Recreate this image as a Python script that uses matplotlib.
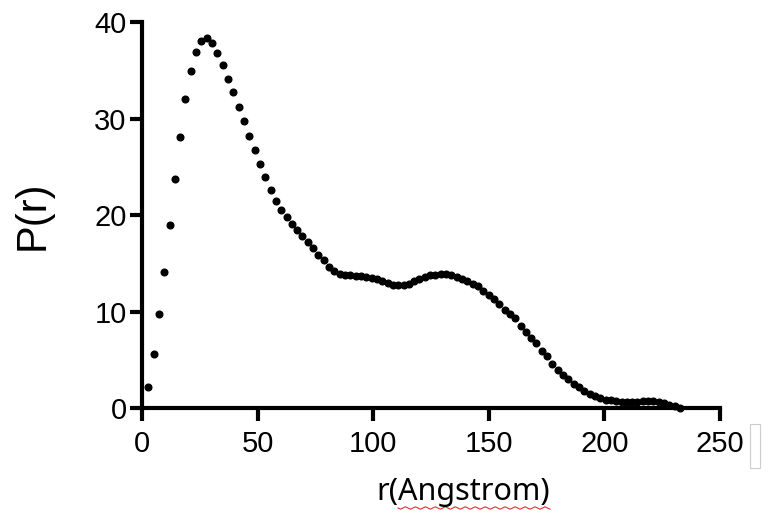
import matplotlib
matplotlib.use("Agg")
import matplotlib.pyplot as plt
from matplotlib.lines import Line2D
from matplotlib.patches import Rectangle
import numpy as np

r_vals = [2.7, 5.0, 7.3, 9.6, 11.9, 14.2, 16.5, 18.8, 21.1, 23.4,
          25.7, 28.0, 30.3, 32.6, 34.9, 37.2, 39.5, 41.8, 44.1, 46.4,
          48.7, 51.0, 53.3, 55.6, 57.9, 60.2, 62.5, 64.8, 67.1, 69.4,
          71.7, 74.0, 76.3, 78.6, 80.9, 83.2, 85.5, 87.8, 90.1, 92.4,
          94.7, 97.0, 99.3, 101.6, 103.9, 106.2, 108.5, 110.8, 113.1, 115.4,
          117.7, 120.0, 122.3, 124.6, 126.9, 129.2, 131.5, 133.8, 136.1, 138.4,
          140.7, 143.0, 145.3, 147.6, 149.9, 152.2, 154.5, 156.8, 159.1, 161.4,
          163.7, 166.0, 168.3, 170.6, 172.9, 175.2, 177.5, 179.8, 182.1, 184.4,
          186.7, 189.0, 191.3, 193.6, 195.9, 198.2, 200.5, 202.8, 205.1, 207.4,
          209.7, 212.0, 214.3, 216.6, 218.9, 221.2, 223.5, 225.8, 228.1, 230.4,
          232.7]
p_vals = [2.2, 5.6, 9.7, 14.1, 19.0, 23.7, 28.1, 32.0, 34.9, 36.9,
          38.0, 38.3, 37.8, 36.8, 35.5, 34.1, 32.7, 31.2, 29.7, 28.2,
          26.7, 25.3, 23.9, 22.6, 21.5, 20.5, 19.8, 19.1, 18.45, 17.8,
          17.2, 16.6, 15.9, 15.3, 14.6, 14.15, 13.9, 13.8, 13.75, 13.7,
          13.65, 13.6, 13.5, 13.4, 13.2, 12.95, 12.75, 12.7, 12.75, 12.9,
          13.15, 13.4, 13.6, 13.75, 13.8, 13.85, 13.85, 13.75, 13.6, 13.4,
          13.15, 12.9, 12.6, 12.15, 11.75, 11.3, 10.75, 10.15, 9.75, 9.3,
          8.55, 7.9, 7.3, 6.7, 5.95, 5.4, 4.6, 3.95, 3.45, 2.98,
          2.5, 2.15, 1.8, 1.5, 1.28, 1.05, 0.88, 0.78, 0.7, 0.66,
          0.65, 0.65, 0.66, 0.68, 0.7, 0.7, 0.62, 0.48, 0.32, 0.16,
          0.03]
x_ticks = [0, 50, 100, 150, 200, 250]
y_ticks = [0, 10, 20, 30, 40]

plt.rcParams['font.family'] = ['Liberation Sans', 'DejaVu Sans']

fig = plt.figure(figsize=(7.71, 5.14), dpi=100)
ax = fig.add_axes([0.1842, 0.2062, 0.7497, 0.7510])
ax.plot(r_vals, p_vals, linestyle='none', marker='o', ms=4.8, color='black',
        clip_on=False, zorder=3)
ax.set_xlim(0, 250)
ax.set_ylim(0, 40)
ax.set_xticks(x_ticks)
ax.set_yticks(y_ticks)
for s in ['top', 'right']:
    ax.spines[s].set_visible(False)
for s in ['left', 'bottom']:
    ax.spines[s].set_linewidth(3)
ax.tick_params(axis='both', direction='out', length=9, width=3, labelsize=21)
ax.tick_params(axis='x', pad=7)
ax.tick_params(axis='y', pad=2)
ax.set_ylabel('P(r)', fontsize=30, labelpad=30)

fig.text(463 / 771, 1 - 492 / 514, 'r(Angstrom)', fontsize=22,
         family=['Noto Sans', 'DejaVu Sans'], ha='center', va='center')

# spell-check squiggle under the word
sx = np.linspace(398, 550, 62)
sy = 508 + 1.2 * np.sin(np.arange(62) * np.pi / 2)
fig.add_artist(Line2D(sx / 771, 1 - sy / 514, color='#e03030', lw=0.8,
                      transform=fig.transFigure))
fig.add_artist(Rectangle((750 / 771, 1 - 468 / 514), 10 / 771, 44 / 514,
                         fill=False, edgecolor='#cccccc', lw=0.8,
                         transform=fig.transFigure))

fig.savefig('out.png', dpi=100)
